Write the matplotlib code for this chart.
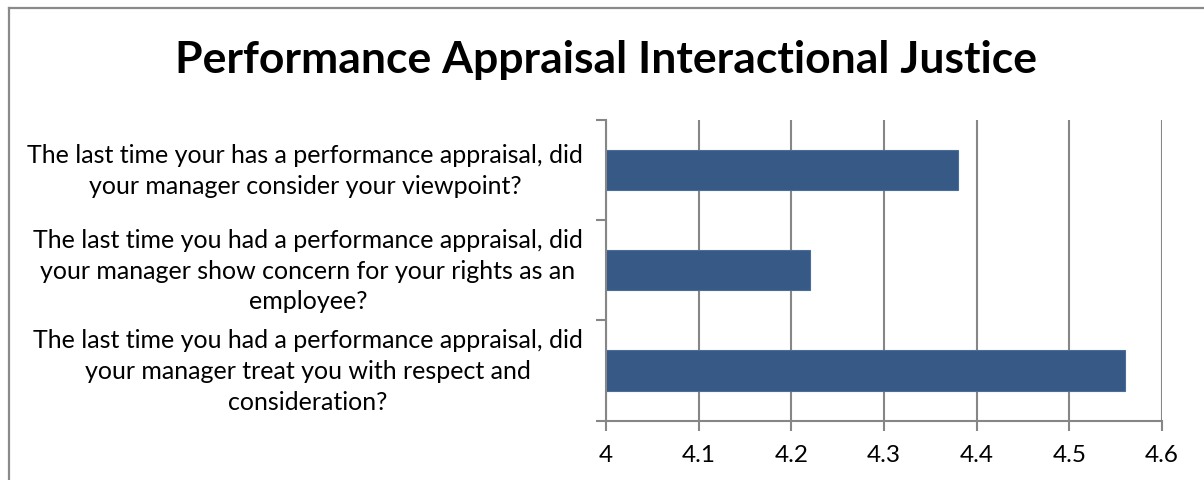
import matplotlib
matplotlib.use("Agg")
import matplotlib.pyplot as plt
from matplotlib.lines import Line2D
from matplotlib.transforms import blended_transform_factory

title = "Performance Appraisal Interactional Justice"
categories = [
    "The last time you had a performance appraisal, did\nyour manager treat you with respect and\nconsideration?",
    "The last time you had a performance appraisal, did\nyour manager show concern for your rights as an\nemployee?",
    "The last time your has a performance appraisal, did\nyour manager consider your viewpoint?",
]
values = [4.56, 4.22, 4.38]
xticks = [4, 4.1, 4.2, 4.3, 4.4, 4.5, 4.6]
xticklabels = ["4", "4.1", "4.2", "4.3", "4.4", "4.5", "4.6"]

plt.rcParams['font.family'] = ['Lato', 'DejaVu Sans']

W, H = 1204, 481
fig = plt.figure(figsize=(W / 100, H / 100), dpi=100)
fig.patch.set_facecolor('white')

# chart border (left and top visible)
border_col = '#8a8a8a'
fig.add_artist(Line2D([8.5 / W, 8.5 / W], [0, 1 - 8.5 / H], transform=fig.transFigure, color=border_col, lw=1.6))
fig.add_artist(Line2D([8.5 / W, 1], [1 - 8.5 / H, 1 - 8.5 / H], transform=fig.transFigure, color=border_col, lw=1.6))

ax = fig.add_axes([606 / W, 59.3 / H, 556 / W, 301 / H])
grid_col = '#868686'

ypos = list(range(len(categories)))
ax.barh(ypos, values, height=0.4, left=0, color='#365A85', edgecolor='#4A6E99', linewidth=0.8, zorder=3)

ax.set_xlim(xticks[0], xticks[-1])
ax.set_ylim(-0.5, len(categories) - 0.5)
ax.set_xticks(xticks)
ax.set_xticklabels(xticklabels, fontsize=17.5)
ax.set_yticks([i - 0.5 for i in range(len(categories) + 1)])
ax.set_yticklabels([])
ax.tick_params(axis='x', direction='out', length=7, width=1.5, color=grid_col, pad=10)
ax.tick_params(axis='y', direction='out', length=7, width=1.5, color=grid_col)
ax.xaxis.grid(True, color=grid_col, lw=1.5, zorder=0)
ax.set_axisbelow(True)
for s in ['top', 'right']:
    ax.spines[s].set_visible(False)
for s in ['left', 'bottom']:
    ax.spines[s].set_color(grid_col)
    ax.spines[s].set_linewidth(1.5)
ax.spines['left'].set_zorder(4)

tr = blended_transform_factory(fig.transFigure, ax.transData)
for y, lab in zip(ypos, categories):
    ax.text(583 / W, y, lab, transform=tr, ha='right', va='center', multialignment='center',
            fontsize=18, linespacing=1.4)

fig.text(606 / W, 1 - 60 / H, title, ha='center', va='center', fontsize=32, fontweight='bold')

fig.savefig('out.png', dpi=100)
